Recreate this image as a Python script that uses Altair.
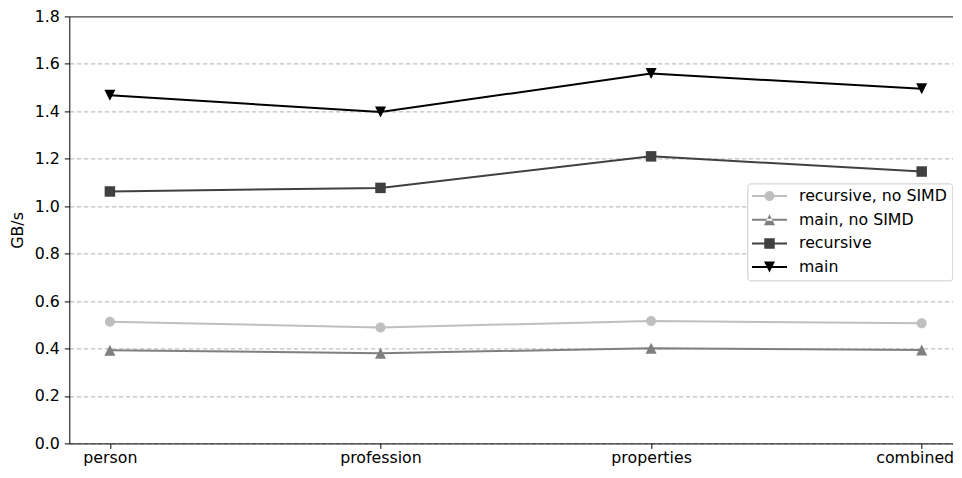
import altair as alt
import pandas as pd

categories = ["person", "profession", "properties", "combined"]
series_names = ["recursive, no SIMD", "main, no SIMD", "recursive", "main"]
recursive_nosimd = [0.513, 0.489, 0.516, 0.506]
main_nosimd = [0.393, 0.380, 0.401, 0.394]
recursive = [1.062, 1.077, 1.210, 1.146]
main = [1.468, 1.397, 1.559, 1.495]
colors = ["#bfbfbf", "#7f7f7f", "#404040", "#000000"]
y_ticks = [0.0, 0.2, 0.4, 0.6, 0.8, 1.0, 1.2, 1.4, 1.6, 1.8]

values = [recursive_nosimd, main_nosimd, recursive, main]
rows = []
for name, vals in zip(series_names, values):
    for c, v in zip(categories, vals):
        rows.append({"category": c, "series": name, "value": v})
df = pd.DataFrame(rows)

FONT = "DejaVu Sans"
FS = 15.8

plot_shapes = [
    "M1,0A1,1,0,1,1,-1,0A1,1,0,1,1,1,0Z",
    "M0,-1L-1,1L1,1Z",
    "M-1,-1H1V1H-1Z",
    "M0,1L-1,-1L1,-1Z",
]
plot_sizes = [100, 121, 110, 121]

# legend glyphs (symbol size 144 -> 6 px per path unit):
# a 35 px line (thin filled bar) with the marker on top
bar = "M-2.917,-0.167H2.917V0.167H-2.917Z"
r = 0.833
s = 0.875
t = 0.917
legend_shapes = [
    f"{bar}M{r},0A{r},{r},0,1,1,-{r},0A{r},{r},0,1,1,{r},0Z",
    f"{bar}M0,-{t}L-{t},{t}L{t},{t}Z",
    f"{bar}M-{s},-{s}H{s}V{s}H-{s}Z",
    f"{bar}M0,{t}L-{t},-{t}L{t},-{t}Z",
]

PLOT_W = 884
X_RANGE = 893

x_enc = alt.X(
    "category:N",
    sort=categories,
    scale=alt.Scale(type="point", domain=categories, padding=0.15, range=[0, X_RANGE]),
    axis=alt.Axis(
        title=None,
        labelAngle=0,
        grid=False,
        labelPadding=2,
        labelOffset=alt.condition("datum.value == 'combined'", alt.value(-7), alt.value(0)),
        domain=True,
        domainColor="black",
        domainWidth=1,
    ),
)
y_enc = alt.Y(
    "value:Q",
    scale=alt.Scale(domain=[0, 1.8], nice=False, zero=True),
    axis=alt.Axis(
        title="GB/s",
        values=y_ticks,
        format=".1f",
        grid=True,
        labelPadding=5,
        titlePadding=9,
        domain=True,
        domainColor="black",
        domainWidth=1,
        gridColor=alt.condition("datum.value >= 1.79", alt.value("black"), alt.value("#b0b0b0")),
        gridDash=alt.condition("datum.value >= 1.79", alt.value([1, 0]), alt.value([4.5, 2.5])),
    ),
)

color_scale = alt.Scale(domain=series_names, range=colors)
base = alt.Chart(df)

leg = dict(
    title=None,
    orient="none",
    legendX=678,
    legendY=167,
    symbolSize=144,
    symbolStrokeWidth=0,
    symbolOpacity=1,
    symbolOffset=9.6,
    labelOffset=21.6,
    rowPadding=6.7,
    padding=4.7,
    fillColor="white",
    strokeColor="#cccccc",
    cornerRadius=3,
    labelFont=FONT,
    labelFontSize=FS,
    labelColor="black",
)

# legend-only layer (no rows drawn): carries the merged colour + shape legend
legend_layer = (
    base.transform_filter(alt.datum.series == "__none__")
    .mark_point(filled=True, opacity=1)
    .encode(
        x=x_enc,
        y=y_enc,
        color=alt.Color("series:N", scale=color_scale, legend=alt.Legend(**leg)),
        shape=alt.Shape(
            "series:N",
            scale=alt.Scale(domain=series_names, range=legend_shapes),
            legend=alt.Legend(**leg),
        ),
    )
)

lines = base.mark_line(strokeWidth=2).encode(
    x=x_enc,
    y=y_enc,
    color=alt.Color("series:N", scale=color_scale),
)

layers = [legend_layer, lines]
for name, col, shp, sz in zip(series_names, colors, plot_shapes, plot_sizes):
    layers.append(
        base.transform_filter(alt.datum.series == name)
        .mark_point(filled=True, shape=shp, size=sz, color=col, opacity=1)
        .encode(x=x_enc, y=y_enc)
    )

chart = (
    alt.layer(*layers)
    .properties(
        width=PLOT_W,
        height=427,
        autosize=alt.AutoSizeParams(type="none"),
        padding={"left": 61.3, "top": 8.4, "right": 0, "bottom": 22.6},
        background="white",
    )
    .configure_view(stroke=None)
    .configure_axis(
        labelFont=FONT,
        labelFontSize=FS,
        labelColor="black",
        titleFont=FONT,
        titleFontSize=FS,
        titleFontWeight="normal",
        titleColor="black",
        tickColor="black",
        tickSize=5,
        tickWidth=1,
        gridWidth=1,
    )
)

chart.save("out.html", embed_options={"renderer": "svg", "actions": False})
